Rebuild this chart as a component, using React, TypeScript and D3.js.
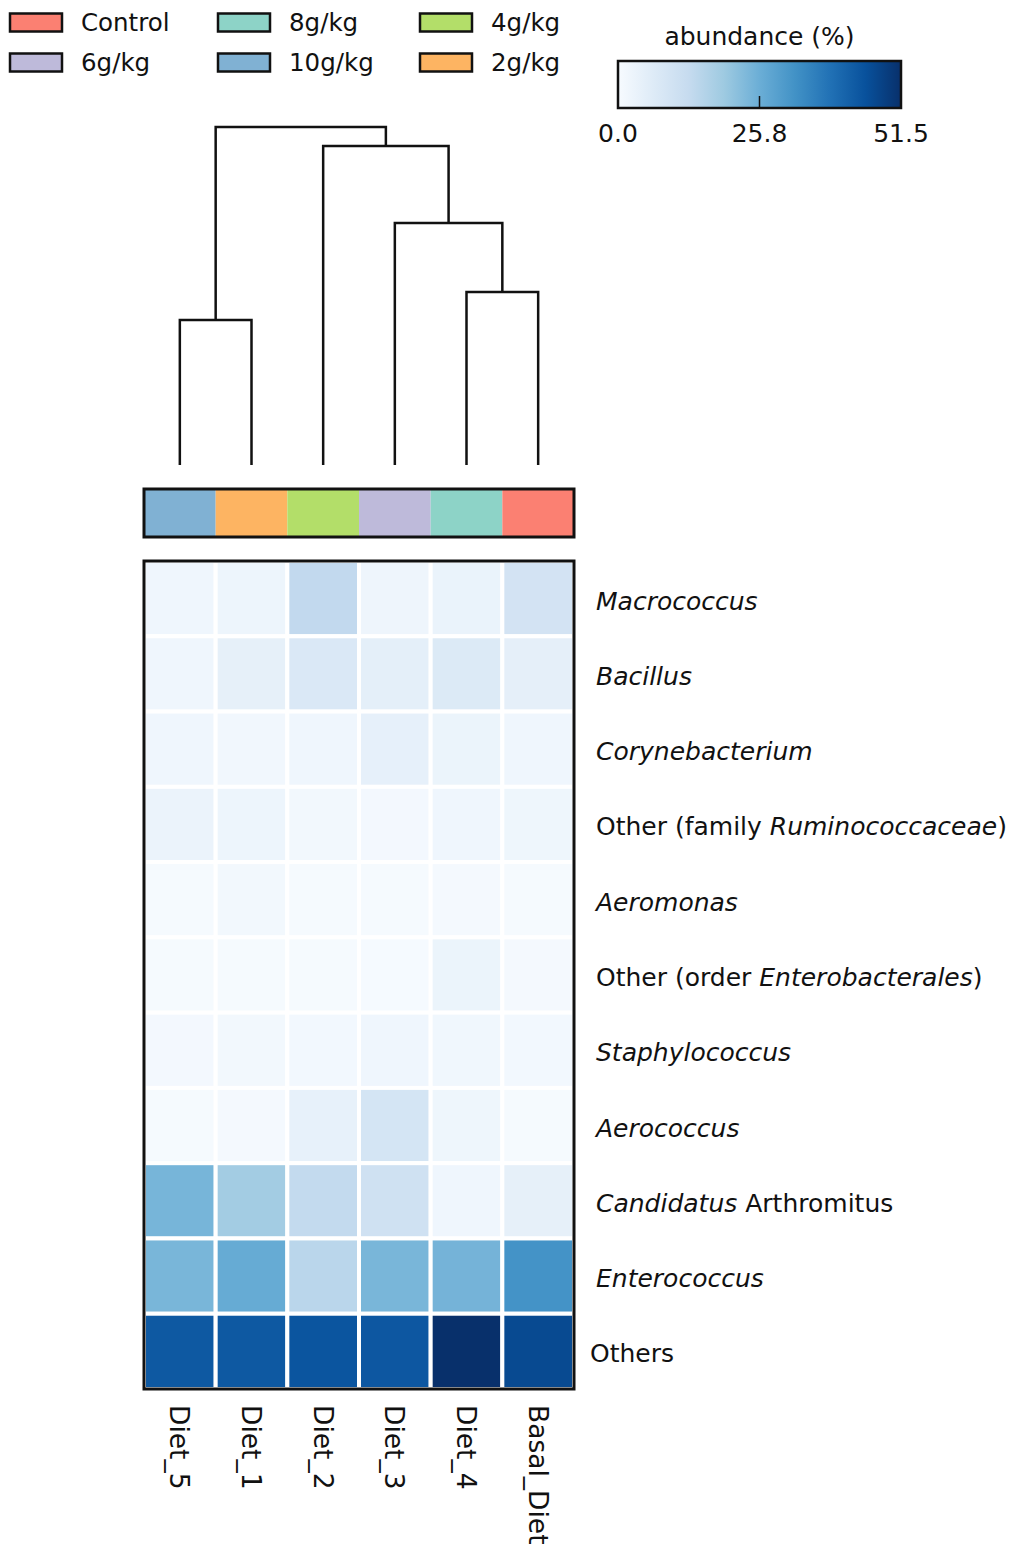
import React from "react";
import * as d3 from "d3";

const samples = ["Diet_5", "Diet_1", "Diet_2", "Diet_3", "Diet_4", "Basal_Diet"];
const sampleGroups = ["10g/kg", "2g/kg", "4g/kg", "6g/kg", "8g/kg", "Control"];

const legendGroups = ["Control", "6g/kg", "8g/kg", "10g/kg", "4g/kg", "2g/kg"];
const groupColors = ["#fb8072", "#bebada", "#8dd3c7", "#80b1d3", "#b3de69", "#fdb462"];

// row labels: segments [text, italic]
const taxa: [string, boolean][][] = [
  [["Macrococcus", true]],
  [["Bacillus", true]],
  [["Corynebacterium", true]],
  [["Other (family ", false], ["Ruminococcaceae", true], [")", false]],
  [["Aeromonas", true]],
  [["Other (order ", false], ["Enterobacterales", true], [")", false]],
  [["Staphylococcus", true]],
  [["Aerococcus", true]],
  [["Candidatus", true], [" Arthromitus", false]],
  [["Enterococcus", true]],
  [["Others", false]],
];

// abundance (%) per taxon, columns in the order of `samples`
const macrococcus = [2.0, 2.6, 13.5, 2.3, 3.3, 9.5];
const bacillus = [2.0, 4.5, 7.5, 5.0, 7.0, 4.7];
const corynebacterium = [2.0, 1.6, 2.0, 4.3, 3.0, 2.0];
const otherRuminococcaceae = [3.2, 2.5, 1.3, 1.1, 2.0, 2.2];
const aeromonas = [0.5, 1.3, 0.5, 0.5, 0.9, 0.5];
const otherEnterobacterales = [0.5, 0.5, 0.5, 0.4, 3.0, 0.9];
const staphylococcus = [1.1, 1.4, 1.2, 2.0, 1.7, 1.2];
const aerococcus = [0.5, 0.9, 4.2, 9.0, 2.2, 0.5];
const candidatusArthromitus = [24.2, 18.5, 13.3, 10.5, 2.0, 4.5];
const enterococcus = [24.0, 26.5, 14.8, 24.0, 24.5, 31.9];
const others = [43.4, 43.4, 44.3, 43.8, 51.5, 46.5];

const matrix = [
  macrococcus, bacillus, corynebacterium, otherRuminococcaceae, aeromonas,
  otherEnterobacterales, staphylococcus, aerococcus, candidatusArthromitus,
  enterococcus, others,
];

const vmin = 0;
const vmax = 51.5;
const colorbarTicks = [0.0, 25.75, 51.5];

// dendrogram merges: [id, left, right, height]
const dendroMerges: [string, string, string, number][] = [
  ["A", "Diet_5", "Diet_1", 0.145],
  ["B", "Diet_4", "Basal_Diet", 0.173],
  ["C", "Diet_3", "B", 0.242],
  ["D", "Diet_2", "C", 0.319],
  ["E", "A", "D", 0.338],
];

const bluesStops = ["#f7fbff", "#deebf7", "#c6dbef", "#9ecae1", "#6baed6", "#4292c6", "#2171b5", "#08519c", "#08306b"];

const FONT = "'DejaVu Sans', sans-serif";

export default function App() {
  const W = 1011, H = 1544;
  const hmLeft = 144, hmRight = 574, hmTop = 561, hmBottom = 1389;

  const x = d3.scaleBand<string>().domain(samples).range([hmLeft, hmRight]);
  const y = d3.scaleBand<number>().domain(d3.range(taxa.length)).range([hmTop, hmBottom]);

  const stopDomain = bluesStops.map((_, i) => vmin + (i / (bluesStops.length - 1)) * (vmax - vmin));
  const color = d3.scaleLinear<string>().domain(stopDomain).range(bluesStops).interpolate(d3.interpolateRgb).clamp(true);

  // dendrogram
  const hScale = d3.scaleLinear().domain([0, d3.max(dendroMerges, (d) => d[3])!]).range([465, 127]);
  const pos: Record<string, { x: number; h: number }> = {};
  samples.forEach((s) => (pos[s] = { x: x(s)! + x.bandwidth() / 2, h: 0 }));
  const dendroPaths: string[] = [];
  dendroMerges.forEach(([id, a, b, h]) => {
    const pa = pos[a], pb = pos[b];
    const p = d3.path();
    p.moveTo(pa.x, hScale(pa.h));
    p.lineTo(pa.x, hScale(h));
    p.lineTo(pb.x, hScale(h));
    p.lineTo(pb.x, hScale(pb.h));
    dendroPaths.push(p.toString());
    pos[id] = { x: (pa.x + pb.x) / 2, h };
  });

  // colorbar
  const cbLeft = 618, cbRight = 901, cbTop = 61, cbBottom = 108;
  const cbScale = d3.scaleLinear().domain([vmin, vmax]).range([cbLeft, cbRight]);

  // legend layout
  const legCols = [10, 218, 420];
  const legRows = [22.5, 62.5];

  return (
    <svg width={W} height={H} style={{ position: "absolute", left: 0, top: 0, background: "#fff" }} fontFamily={FONT}>
      <defs>
        <linearGradient id="blues" x1="0" x2="1" y1="0" y2="0">
          {bluesStops.map((c, i) => (
            <stop key={i} offset={`${(i / (bluesStops.length - 1)) * 100}%`} stopColor={c} />
          ))}
        </linearGradient>
      </defs>

      {/* legend */}
      {legendGroups.map((g, i) => {
        const col = Math.floor(i / 2);
        const row = i % 2;
        const lx = legCols[col];
        const ly = legRows[row];
        return (
          <g key={g}>
            <rect x={lx} y={ly - 9} width={52} height={18} fill={groupColors[i]} stroke="#111" strokeWidth={2.5} />
            <text x={lx + 71} y={ly} dominantBaseline="central" fontSize={24.5} fill="#111">{g}</text>
          </g>
        );
      })}

      {/* colorbar */}
      <text x={(cbLeft + cbRight) / 2} y={36} textAnchor="middle" dominantBaseline="central" fontSize={25} fill="#111">abundance (%)</text>
      <rect x={cbLeft} y={cbTop} width={cbRight - cbLeft} height={cbBottom - cbTop} fill="url(#blues)" stroke="#111" strokeWidth={2.5} />
      {colorbarTicks.map((t, i) => (
        <g key={i}>
          {i === 1 && <line x1={cbScale(t)} x2={cbScale(t)} y1={cbBottom - 12} y2={cbBottom} stroke="#111" strokeWidth={1.5} />}
          <text x={cbScale(t)} y={133} textAnchor="middle" dominantBaseline="central" fontSize={25} fill="#111">{t.toFixed(1)}</text>
        </g>
      ))}

      {/* dendrogram */}
      {dendroPaths.map((d, i) => (
        <path key={i} d={d} fill="none" stroke="#111" strokeWidth={2.5} />
      ))}

      {/* column annotation */}
      {samples.map((s, i) => (
        <rect key={s} x={x(s)!} y={489} width={x.bandwidth()} height={48} fill={groupColors[legendGroups.indexOf(sampleGroups[i])]} />
      ))}
      <rect x={hmLeft} y={489} width={hmRight - hmLeft} height={48} fill="none" stroke="#111" strokeWidth={3} />

      {/* heatmap */}
      {matrix.map((row, r) =>
        row.map((v, c) => (
          <rect key={`${r}-${c}`} x={x(samples[c])!} y={y(r)!} width={x.bandwidth()} height={y.bandwidth()} fill={color(v)} stroke="#fff" strokeWidth={4} />
        ))
      )}
      <rect x={hmLeft} y={hmTop} width={hmRight - hmLeft} height={hmBottom - hmTop} fill="none" stroke="#111" strokeWidth={3} />

      {/* row labels */}
      {taxa.map((segs, r) => (
        <text key={r} x={segs.length === 1 && !segs[0][1] ? 590 : 596} y={y(r)! + y.bandwidth() / 2 + 2} dominantBaseline="central" fontSize={25} fill="#111" xmlSpace="preserve">
          {segs.map(([t, it], k) => (
            <tspan key={k} fontStyle={it ? "italic" : "normal"}>{t}</tspan>
          ))}
        </text>
      ))}

      {/* column labels */}
      {samples.map((s) => {
        const cx = x(s)! + x.bandwidth() / 2;
        return (
          <text key={s} transform={`translate(${cx},1405) rotate(90)`} x={0} y={0} dominantBaseline="central" fontSize={26.5} fill="#111">{s}</text>
        );
      })}
    </svg>
  );
}
